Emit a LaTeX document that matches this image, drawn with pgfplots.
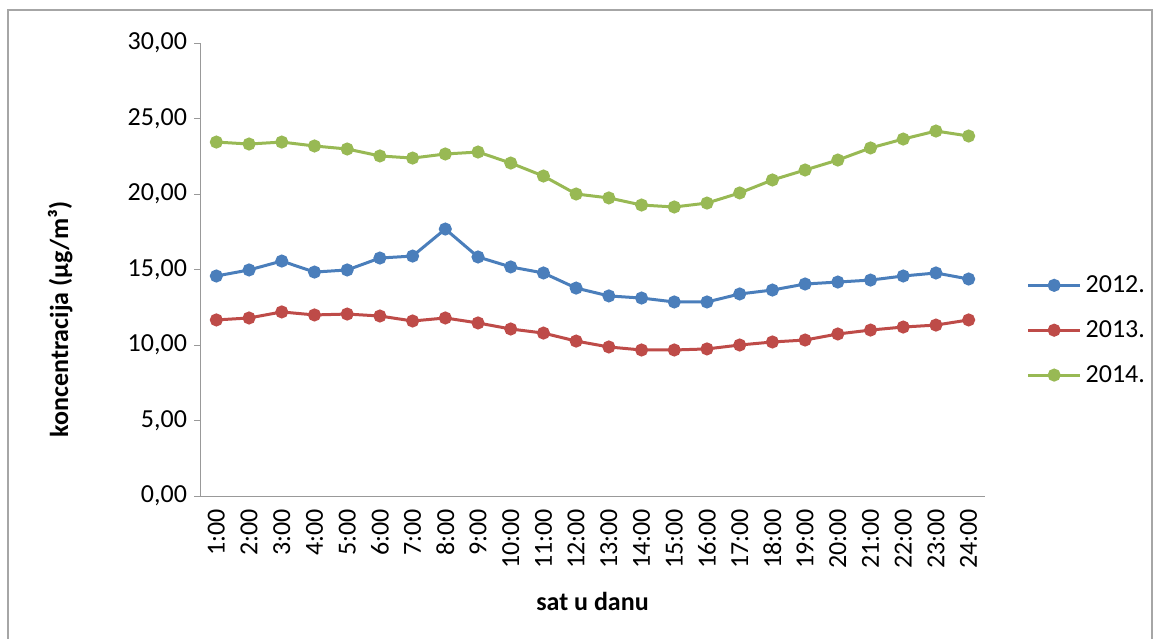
\documentclass[border=0pt]{standalone}
\usepackage{pgfplots}
\pgfplotsset{compat=1.18}
\usepackage{fontspec}
\setmainfont{Carlito}
\definecolor{c1}{HTML}{4A7EBB}
\definecolor{c2}{HTML}{BE4B48}
\definecolor{c3}{HTML}{98B954}
\begin{document}
\begin{tikzpicture}[x=1pt,y=1pt]
\path[use as bounding box] (0,0) rectangle (580.5,319);
\draw[gray!70,line width=0.6pt] (4,-2) rectangle (576,314);
\begin{axis}[at={(100pt,71pt)},anchor=south west,scale only axis,
 width=392.5pt,height=226.5pt,
 xmin=0.5,xmax=24.5,ymin=0,ymax=30,
 axis x line*=bottom, axis y line*=left,
 axis line style={gray!80},
 xtick={1,...,24},
 xticklabels={1:00,2:00,3:00,4:00,5:00,6:00,7:00,8:00,9:00,10:00,11:00,12:00,13:00,14:00,15:00,16:00,17:00,18:00,19:00,20:00,21:00,22:00,23:00,24:00},
 x tick label style={rotate=90,anchor=east,font=\fontsize{13}{15}\selectfont},
 ytick={0,5,...,30},
 y tick label style={font=\fontsize{13}{15}\selectfont},
 yticklabel style={/pgf/number format/.cd,fixed,fixed zerofill,precision=2,use comma,assume math mode=true},
 tick style={gray!80},
 xtick style={draw=none},
 ytick pos=left, tick align=outside, major tick length=3pt,
 xlabel={\bfseries sat u danu},
 ylabel={\bfseries koncentracija (µg/m³)},
 label style={font=\fontsize{13}{15}\selectfont},
 xlabel style={yshift=-5pt},
 ylabel style={at={(axis description cs:-0.178,0.39)},anchor=center},
 legend style={at={(1.05,0.366)},anchor=west,draw=none,fill=none,inner xsep=1pt,font=\fontsize{13}{15}\selectfont,row sep=8.5pt},
 legend image code/.code={\draw[#1] (0pt,0pt) -- (26pt,0pt); \draw[#1,mark repeat=1] plot coordinates {(13pt,0pt)};},
 legend cell align=left,
 every axis plot/.append style={line width=1.5pt,mark=*,mark size=2.5pt},
]
\addplot[c1,mark options={fill=c1}] coordinates {(1,14.57)(2,14.97)(3,15.56)(4,14.83)(5,14.97)(6,15.76)(7,15.89)(8,17.68)(9,15.83)(10,15.17)(11,14.77)(12,13.77)(13,13.25)(14,13.11)(15,12.85)(16,12.85)(17,13.38)(18,13.64)(19,14.04)(20,14.17)(21,14.3)(22,14.57)(23,14.77)(24,14.37)};
\addplot[c2,mark options={fill=c2}] coordinates {(1,11.66)(2,11.79)(3,12.19)(4,11.99)(5,12.05)(6,11.92)(7,11.59)(8,11.79)(9,11.46)(10,11.06)(11,10.79)(12,10.26)(13,9.87)(14,9.67)(15,9.67)(16,9.74)(17,10.0)(18,10.2)(19,10.33)(20,10.73)(21,10.99)(22,11.19)(23,11.32)(24,11.66)};
\addplot[c3,mark options={fill=c3}] coordinates {(1,23.44)(2,23.31)(3,23.44)(4,23.18)(5,22.98)(6,22.52)(7,22.38)(8,22.65)(9,22.78)(10,22.05)(11,21.19)(12,20.0)(13,19.74)(14,19.27)(15,19.14)(16,19.4)(17,20.07)(18,20.93)(19,21.59)(20,22.25)(21,23.05)(22,23.64)(23,24.17)(24,23.84)};
\legend{2012.,2013.,2014.}
\end{axis}
\end{tikzpicture}
\end{document}
